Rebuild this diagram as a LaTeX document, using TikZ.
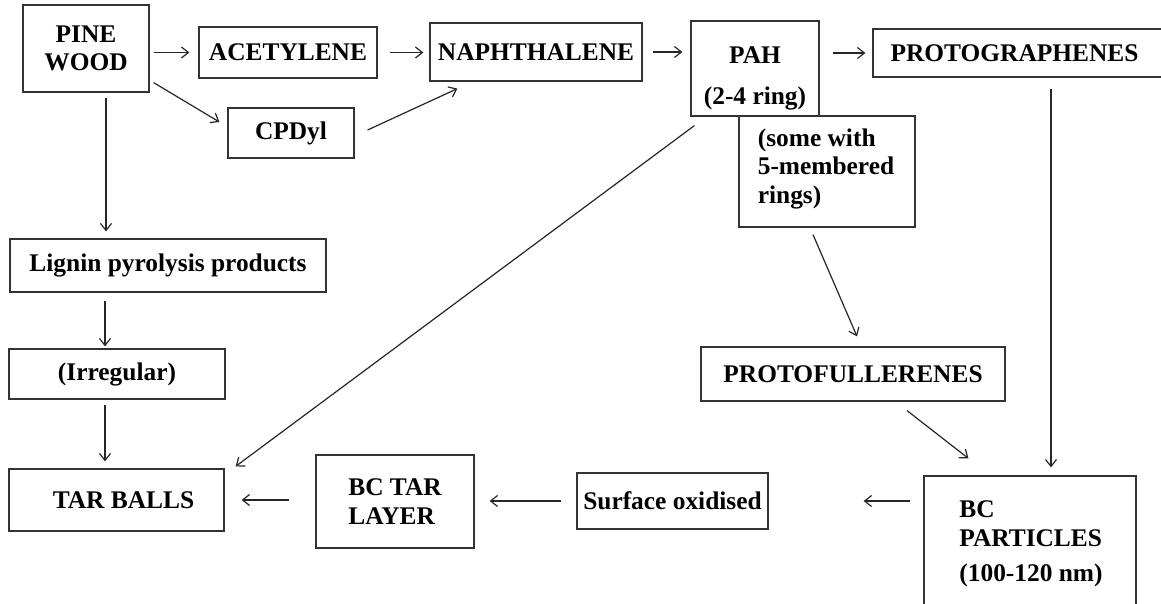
\documentclass[tikz,border=0pt]{standalone}
\usepackage{fontspec}
\setmainfont{Liberation Serif}
\usetikzlibrary{arrows.meta}
\begin{document}
\begin{tikzpicture}[x=1pt,y=-1pt,
  box/.style={draw=black!80, line width=1.2pt, inner sep=0pt, align=center,
    font={\fontsize{25.4}{28.5}\selectfont\bfseries}},
  txt/.style={inner sep=0pt, font={\fontsize{25.4}{28.5}\selectfont\bfseries}},
  arr/.style={draw=black!85, line width=1.2pt, -{Straight Barb[length=7pt,width=11pt,line width=1.2pt]}}]
\clip (0,0) rectangle (1161,603);
\fill[white] (0,0) rectangle (1161,603);
% boxes
\node[box, minimum width=126pt, minimum height=87pt] (pine) at (86,48.5) {PINE\\WOOD};
\node[box, minimum width=178pt, minimum height=51pt] (acet) at (288,52.5) {ACETYLENE};
\node[box, minimum width=212pt, minimum height=58pt] (naph) at (536,52) {NAPHTHALENE};
\node[box, minimum width=126pt, minimum height=50pt] (cpd) at (291,133) {CPDyl};
\node[box, minimum width=128pt, minimum height=95pt] (pah) at (755,68.5) {};
\node[txt, align=center] (pahT) at (755,78.5) {PAH\\[12pt](2-4 ring)};
\node[box, minimum width=176pt, minimum height=111pt] (some) at (827,171.5) {};
\node[txt, align=left] (someT) at (826,168.5) {(some with\\5-membered\\rings)};
\node[box, minimum width=292pt, minimum height=48pt] (protog) at (1019,53) {PROTOGRAPHENES\hspace*{9pt}};
\node[box, minimum width=316pt, minimum height=53pt] (lignin) at (168,265.5) {Lignin pyrolysis products};
\node[box, minimum width=216pt, minimum height=50pt] (irreg) at (117,374) {(Irregular)};
\node[box, minimum width=215pt, minimum height=62pt] (tar) at (116.5,500) {\hspace*{14pt}TAR BALLS};
\node[box, align=left, minimum width=158pt, minimum height=93pt] (bctar) at (395,501.5) {BC TAR\\LAYER};
\node[box, minimum width=191pt, minimum height=56pt] (surf) at (672.5,501) {Surface oxidised};
\node[box, minimum width=304pt, minimum height=54pt] (protof) at (853,374) {PROTOFULLERENES};
\node[box, minimum width=212pt, minimum height=129pt] (bcp) at (1030,540.5) {};
\node[txt, align=left] (bcpT) at (1031,544) {BC\\PARTICLES\\[7pt](100-120 nm)};
% connectors
\draw[arr, shorten <=4pt, shorten >=9pt] (pine.east |- acet.west) -- (acet.west);
\draw[arr] ([xshift=4pt,yshift=10pt]pine.south east) -- ([xshift=-8pt,yshift=11pt]cpd.west);
\draw[arr, shorten <=5pt, shorten >=7pt] ([xshift=20pt]pine.south) -- ([xshift=-62pt]lignin.north);
\draw[arr, shorten <=12pt, shorten >=6pt] (acet.east) -- (naph.west |- acet.east);
\draw[arr] ([xshift=13pt,yshift=3pt]cpd.east) -- ([xshift=28pt,yshift=-7pt]naph.south west);
\draw[arr, shorten <=10pt, shorten >=8pt] (naph.east) -- (pah.west |- naph.east);
\draw[arr, shorten <=13pt, shorten >=7pt] (pah.east |- protog.west) -- (protog.west);
\draw[arr, shorten <=11pt, shorten >=8pt] ([xshift=32pt]protog.south) -- ([xshift=21pt]bcp.north);
\draw[arr] ([xshift=4pt,yshift=-9pt]pah.south west) -- ([xshift=11pt,yshift=2pt]tar.north east);
\draw[arr] ([xshift=-14pt,yshift=-7pt]some.south) -- ([xshift=4pt,yshift=10pt]protof.north);
\draw[arr] ([xshift=54pt,yshift=-9pt]protof.south) -- ([xshift=45pt,yshift=17pt]bcp.north west);
\draw[arr, shorten <=13pt, shorten >=95pt] (bcp.west |- surf.east) -- (surf.east);
\draw[arr, shorten <=15pt, shorten >=15pt] (surf.west) -- (bctar.east |- surf.west);
\draw[arr, shorten <=26pt, shorten >=17pt] (bctar.west |- tar.east) -- (tar.east);
\draw[arr, shorten <=8pt, shorten >=2pt] ([xshift=-63pt]lignin.south) -- ([xshift=-12pt]irreg.north);
\draw[arr, shorten <=5pt, shorten >=7pt] ([xshift=-12pt]irreg.south) -- ([xshift=-11.5pt]tar.north);
\end{tikzpicture}
\end{document}
